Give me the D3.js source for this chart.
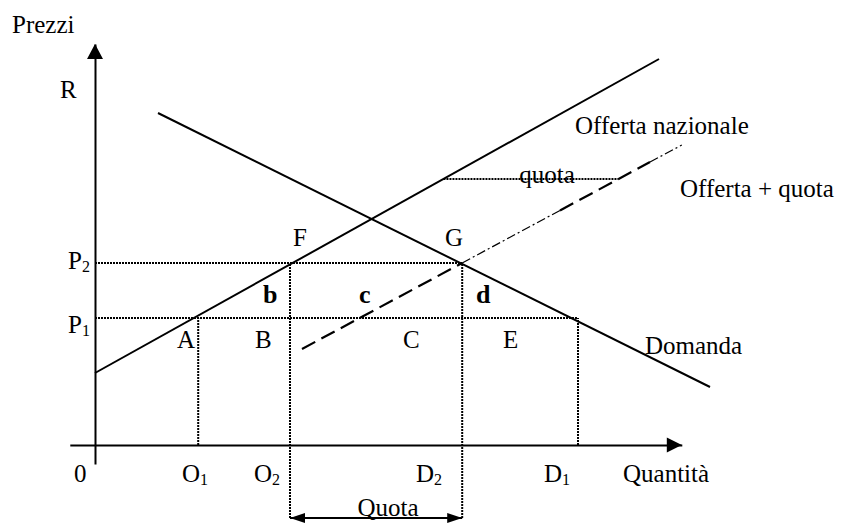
<!DOCTYPE html>
<html>
<head>
<meta charset="utf-8">
<script src="https://cdn.jsdelivr.net/npm/d3@7"></script>
<style>
  body { margin: 0; background: #fff; }
  text { font-family: "Liberation Serif", "Times New Roman", serif; fill: #000; }
</style>
</head>
<body>
<div id="chart"></div>
<script>
// quantities on the horizontal axis (O1, O2, D2, D1)
const qNames = ["O1", "O2", "D2", "D1"];
const qValues = [17.2, 32.5, 61.2, 80.5];
// prices on the vertical axis
const pNames = ["P1", "P2"];
const pValues = [31.75, 45.5];
// curves, as [quantity, price] end points
const supply = [[0, 18], [94, 96.5]];
const demand = [[10.5, 83], [102.5, 14.5]];
const supplyQuota = [[34.5, 24], [97.8, 75]];
// where the "offerta + quota" line changes stroke (scan look)
const quotaBreaks = [34.5, 61.2, 77.5, 92.5, 97.8];
const quotaStyles = ["dash", "dashdot", "dash", "dashdot"];
const quotaLevel = 66.5;   // price where the quota gap is marked
const bracketLevel = -18.25;

const W = 841, H = 523;
const x = d3.scaleLinear().domain([0, 100]).range([95, 695]);
const y = d3.scaleLinear().domain([0, 100]).range([445, 45]);

const Q = Object.fromEntries(qNames.map((n, i) => [n, qValues[i]]));
const P = Object.fromEntries(pNames.map((n, i) => [n, pValues[i]]));

const svg = d3.select("#chart").append("svg")
    .attr("width", W).attr("height", H)
    .style("display", "block");

const line = d3.line().x(d => x(d[0])).y(d => y(d[1]));

function priceAt(seg, q) {
    const [[q0, p0], [q1, p1]] = seg;
    return p0 + (q - q0) * (p1 - p0) / (q1 - q0);
}
function qtyAt(seg, p) {
    const [[q0, p0], [q1, p1]] = seg;
    return q0 + (p - p0) * (q1 - q0) / (p1 - p0);
}

// axes
const xAxisScale = x.copy().domain([-4.2, 97.8]).range([x(-4.2), x(97.8)]);
const yAxisScale = y.copy().domain([-4.75, 100.25]).range([y(-4.75), y(100.25)]);

svg.append("g")
    .attr("transform", `translate(0,${y(0)})`)
    .call(d3.axisBottom(xAxisScale).tickValues([]).tickSizeOuter(0))
    .select(".domain").attr("stroke", "#000").attr("stroke-width", 2);

svg.append("g")
    .attr("transform", `translate(${x(0)},0)`)
    .call(d3.axisLeft(yAxisScale).tickValues([]).tickSizeOuter(0))
    .select(".domain").attr("stroke", "#000").attr("stroke-width", 2);

// arrow heads
const xTip = [xAxisScale.range()[1], y(0)];
svg.append("path")
    .attr("d", `M${xTip[0]},${xTip[1]} L${xTip[0] - 15},${xTip[1] - 7.5} L${xTip[0] - 15},${xTip[1] + 7.5} Z`)
    .attr("fill", "#000");
const yTip = [x(0), yAxisScale.range()[1]];
svg.append("path")
    .attr("d", `M${yTip[0]},${yTip[1]} L${yTip[0] - 8},${yTip[1] + 15} L${yTip[0] + 8},${yTip[1] + 15} Z`)
    .attr("fill", "#000");

// dotted guide lines
const dotted = [
    [[0, P.P2], [Q.D2, P.P2]],
    [[0, P.P1], [Q.D1, P.P1]],
    [[Q.O1, 0], [Q.O1, P.P1]],
    [[Q.O2, bracketLevel], [Q.O2, P.P2]],
    [[Q.D2, bracketLevel], [Q.D2, P.P2]],
    [[Q.D1, 0], [Q.D1, P.P1]],
    [[qtyAt(supply, quotaLevel), quotaLevel], [qtyAt(supplyQuota, quotaLevel), quotaLevel]]
];
svg.append("g").selectAll("path")
    .data(dotted)
    .join("path")
    .attr("d", line)
    .attr("fill", "none")
    .attr("stroke", "#000")
    .attr("stroke-width", 2)
    .attr("stroke-dasharray", "2,1");

// supply and demand
svg.append("g").selectAll("path")
    .data([supply, demand])
    .join("path")
    .attr("d", line)
    .attr("fill", "none")
    .attr("stroke", "#000")
    .attr("stroke-width", 2);

// supply + quota (dashed)
const quotaSegs = quotaStyles.map((s, i) => ({
    style: s,
    pts: [[quotaBreaks[i], priceAt(supplyQuota, quotaBreaks[i])],
          [quotaBreaks[i + 1], priceAt(supplyQuota, quotaBreaks[i + 1])]]
}));
svg.append("g").selectAll("path")
    .data(quotaSegs)
    .join("path")
    .attr("d", d => line(d.pts))
    .attr("fill", "none")
    .attr("stroke", "#000")
    .attr("stroke-width", d => d.style === "dash" ? 2.2 : 1.2)
    .attr("stroke-dasharray", d => d.style === "dash" ? "15,7" : "9,3,2,3");

// quota bracket
const by = y(bracketLevel);
const bx0 = x(Q.O2), bx1 = x(Q.D2);
svg.append("line")
    .attr("x1", bx0).attr("x2", bx1).attr("y1", by).attr("y2", by)
    .attr("stroke", "#000").attr("stroke-width", 2);
svg.append("path")
    .attr("d", `M${bx0},${by} L${bx0 + 15},${by - 5} L${bx0 + 15},${by + 5} Z M${bx1},${by} L${bx1 - 15},${by - 5} L${bx1 - 15},${by + 5} Z`)
    .attr("fill", "#000");

// labels: [text, subscript, q, p, anchor, bold]
const labels = [
    ["Prezzi", "", -13.83, 103, "start", false],
    ["R", "", -5.83, 86.75, "start", false],
    ["0", "", -3.5, -9.25, "start", false],
    ["O", "1", 14.5, -9.25, "start", false],
    ["O", "2", 26.5, -9.25, "start", false],
    ["D", "2", 53.5, -9.25, "start", false],
    ["D", "1", 74.83, -9.25, "start", false],
    ["Quantità", "", 88, -9.25, "start", false],
    ["P", "2", -4.5, 44, "start", false],
    ["P", "1", -4.5, 28, "start", false],
    ["F", "", 33, 49.75, "start", false],
    ["G", "", 58.33, 49.75, "start", false],
    ["A", "", 13.67, 24.25, "start", false],
    ["B", "", 26.67, 24.25, "start", false],
    ["C", "", 51.33, 24.25, "start", false],
    ["E", "", 68, 24.25, "start", false],
    ["b", "", 28, 35.5, "start", true],
    ["c", "", 44, 35.5, "start", true],
    ["d", "", 63.5, 35.5, "start", true],
    ["Offerta nazionale", "", 80, 77.75, "start", false],
    ["quota", "", 75.33, 65.5, "middle", false],
    ["Offerta + quota", "", 97.5, 62, "start", false],
    ["Domanda", "", 91.67, 22.75, "start", false],
    ["Quota", "", 48.83, -17.75, "middle", false]
];

const t = svg.append("g").selectAll("text")
    .data(labels)
    .join("text")
    .attr("x", d => x(d[2]))
    .attr("y", d => y(d[3]))
    .attr("text-anchor", d => d[4])
    .style("font-size", d => d[5] ? "26px" : "25px")
    .style("font-weight", d => d[5] ? "bold" : "normal");
t.append("tspan").text(d => d[0]);
t.filter(d => d[1]).append("tspan")
    .attr("dy", 3)
    .style("font-size", "16px")
    .text(d => d[1]);
</script>
</body>
</html>
